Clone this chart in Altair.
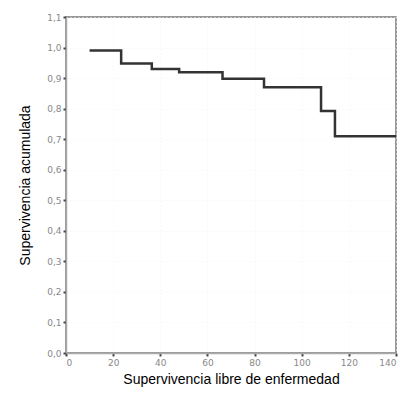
import altair as alt
import pandas as pd

tiempo = [10, 23.4, 36.4, 48, 66.4, 84, 108.2, 114.1, 140]
supervivencia = [0.99, 0.948, 0.930, 0.919, 0.898, 0.870, 0.792, 0.710, 0.710]
y_ticks = [0.0, 0.1, 0.2, 0.3, 0.4, 0.5, 0.6, 0.7, 0.8, 0.9, 1.0, 1.1]
x_ticks = [0, 20, 40, 60, 80, 100, 120, 140]

df = pd.DataFrame({"t": tiempo, "s": supervivencia})

chart = alt.Chart(df).mark_line(
    interpolate="step-after", color="#333333", strokeWidth=2.5
).encode(
    x=alt.X("t:Q", scale=alt.Scale(domain=[0, 140], nice=False),
            axis=alt.Axis(values=x_ticks, title="Supervivencia libre de enfermedad",
                          titlePadding=5)),
    y=alt.Y("s:Q", scale=alt.Scale(domain=[0, 1.1], nice=False),
            axis=alt.Axis(values=y_ticks, title="Supervivencia acumulada",
                          labelExpr="replace(format(datum.value, '.1f'), '.', ',')",
                          titlePadding=14)),
).properties(
    width=330, height=336,
    autosize=alt.AutoSizeParams(type="none"),
    padding={"left": 58, "top": 9, "right": 2, "bottom": 38},
).configure_view(
    stroke="#777777", strokeWidth=1.5
).configure_axis(
    domainColor="#aaaaaa", domainWidth=1.5,
    tickColor="#444444", tickSize=3, tickWidth=2,
    labelColor="#888888", labelFont="DejaVu Sans", labelFontSize=9,
    titleFont="Liberation Sans", titleFontSize=14, titleFontWeight="normal",
    titleColor="#000000",
    gridColor="#f2f2f2", gridDash=[1, 3], labelPadding=2,
)

chart.save("out.html", embed_options={"renderer": "svg", "actions": False})
